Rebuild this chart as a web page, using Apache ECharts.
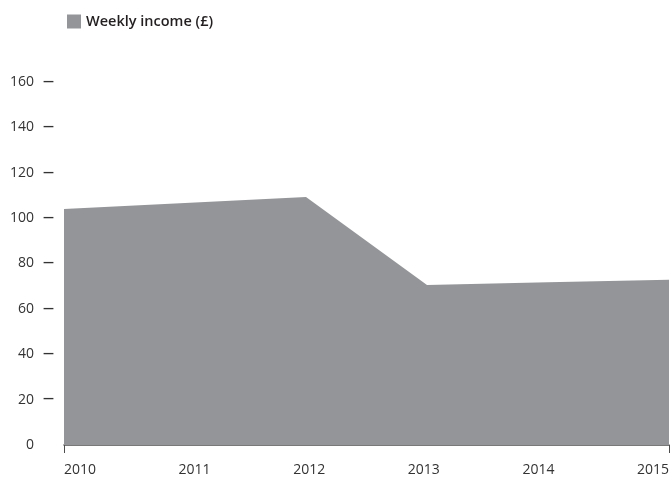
<!DOCTYPE html>
<html>
<head>
<meta charset="utf-8">
<script src="https://cdn.jsdelivr.net/npm/echarts@6/dist/echarts.min.js"></script>
<style>html,body{margin:0;padding:0;background:#fff}#c{width:672px;height:479px}</style>
</head>
<body>
<div id="c"></div>
<script>
var years = ['2010', '2011', '2012', '2013', '2014', '2015'];
var weeklyIncome = [104, 106.7, 109.3, 70.5, 71.7, 72.8];
var seriesName = 'Weekly income (£)';
var yTicks = [0, 20, 40, 60, 80, 100, 120, 140, 160];

var chart = echarts.init(document.getElementById('c'));
var font = '"Open Sans", "DejaVu Sans", sans-serif';
chart.setOption({
  animation: false,
  legend: {
    left: 62, top: 9, itemWidth: 14, itemHeight: 14, itemGap: 10,
    icon: 'rect',
    textStyle: { fontFamily: font, fontSize: 14.5, fontWeight: 600, color: '#231f20' },
    data: [seriesName]
  },
  grid: [
    { left: 64, right: 3, top: 82, bottom: 34 },
    { left: 80, right: 19, top: 82, bottom: 34 }
  ],
  xAxis: [
    {
      type: 'category', gridIndex: 0, data: years, boundaryGap: false,
      axisLine: { lineStyle: { color: '#4d4d4d', width: 1.5 } },
      axisTick: { show: true, length: 8, lineStyle: { color: '#4d4d4d', width: 1 },
        interval: function (i) { return i === 0 || i === years.length - 1; } },
      axisLabel: { show: false }
    },
    {
      type: 'category', gridIndex: 1, data: years, boundaryGap: false,
      axisLine: { show: false }, axisTick: { show: false },
      axisLabel: { margin: 18, fontFamily: font, fontSize: 14, color: '#333', interval: 0 }
    }
  ],
  yAxis: [
    {
      type: 'value', gridIndex: 0, min: 0, max: 160, interval: 20,
      axisLine: { show: false }, axisTick: { show: false }, splitLine: { show: false },
      axisLabel: {
        margin: 10, fontFamily: font, fontSize: 14, color: '#333',
        formatter: function (v) {
          return v === 0 ? '{v|0}{e| }' : '{v|' + v + '}{d|—}';
        },
        rich: {
          v: { fontFamily: font, fontSize: 14, color: '#333' },
          d: { fontFamily: '"DejaVu Sans", sans-serif', fontSize: 11, fontWeight: 'bold', color: '#333', width: 20, align: 'right' },
          e: { fontSize: 11, width: 20 }
        }
      }
    },
    { type: 'value', gridIndex: 1, show: false, min: 0, max: 160 }
  ],
  series: [{
    name: seriesName, type: 'line', xAxisIndex: 0, yAxisIndex: 0,
    data: weeklyIncome, symbol: 'none', z: 1,
    itemStyle: { color: '#939598' },
    lineStyle: { width: 0, color: '#939598' },
    areaStyle: { color: '#939598', opacity: 1 }
  }]
});
</script>
</body>
</html>
